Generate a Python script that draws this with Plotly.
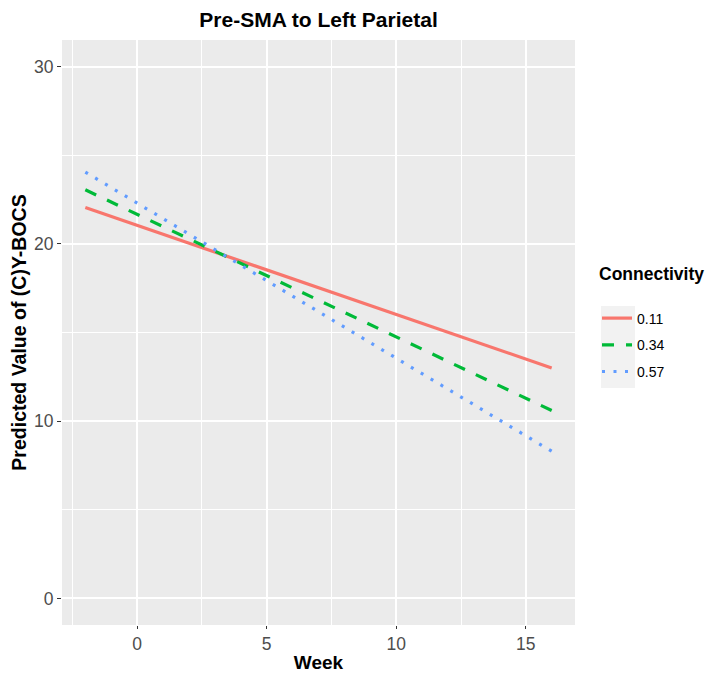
import plotly.graph_objects as go

weeks = [-2, 16]
connectivity = ["0.11", "0.34", "0.57"]
pred_011 = [22.05, 13.0]
pred_034 = [23.05, 10.6]
pred_057 = [24.05, 8.3]

x_ticks = [0, 5, 10, 15]
y_ticks = [0, 10, 20, 30]

series = [pred_011, pred_034, pred_057]
colors = ["#F8766D", "#00BA38", "#619CFF"]
dashes = ["solid", "12px,12px", "3px,8.5px"]

# page body has an 8px margin, so the figure is drawn 8px in from the window edge
OFF = 8
W, H = 713 - OFF, 677 - OFF
L, R, T, B = 62 - OFF, 575 - OFF, 40 - OFF, 625 - OFF
pw, ph = R - L, B - T


def px_x(p):
    return (p - OFF - L) / pw


def px_y(p):
    return (B - (p - OFF)) / ph


fig = go.Figure()
for name, vals, c, d in zip(connectivity, series, colors, dashes):
    fig.add_trace(go.Scatter(x=weeks, y=vals, mode="lines", name=name, legendgroup=name,
                             line=dict(color=c, width=3.2, dash=d)))

font_family = "Liberation Sans, Arial, sans-serif"
fig.add_shape(type="rect", xref="paper", yref="paper",
              x0=px_x(601), x1=px_x(635), y0=px_y(388), y1=px_y(306),
              fillcolor="#F2F2F2", line=dict(width=0), layer="below")

fig.update_layout(
    width=W, height=H,
    margin=dict(l=L, r=W - R, t=T, b=H - B, autoexpand=False),
    paper_bgcolor="white",
    plot_bgcolor="#EBEBEB",
    font=dict(family=font_family, color="#000000"),
    title=dict(text="<b>Pre-SMA to Left Parietal</b>", x=(L + R) / 2 / W, xanchor="center",
               y=1 - (20 - OFF) / H, yanchor="middle", font=dict(size=21, color="black")),
    showlegend=True,
    legend=dict(x=px_x(597), xanchor="left", y=px_y(257), yanchor="top",
                bgcolor="rgba(0,0,0,0)",
                title=dict(text="<b>Connectivity</b><br> ", font=dict(size=17.5, color="black")),
                font=dict(size=14, color="black"),
                tracegroupgap=5.5, itemwidth=30),
    xaxis=dict(range=[-2.9, 16.9], tickvals=x_ticks, ticks="outside", ticklen=3,
               tickcolor="#333333", tickfont=dict(size=17.5, color="#4D4D4D"),
               showgrid=True, gridcolor="white", gridwidth=1.6, zeroline=False,
               minor=dict(dtick=2.5, showgrid=True, gridcolor="white", gridwidth=0.7),
               title=dict(text="<b>Week</b>", font=dict(size=19, color="black"), standoff=2),
               showline=False, automargin=False),
    yaxis=dict(range=[-1.5, 31.5], tickvals=y_ticks, ticks="outside", ticklen=4,
               tickcolor="#333333", tickfont=dict(size=17.5, color="#4D4D4D"),
               showgrid=True, gridcolor="white", gridwidth=1.6, zeroline=False,
               minor=dict(dtick=5, showgrid=True, gridcolor="white", gridwidth=0.7),
               title=dict(text="<b>Predicted Value of (C)Y-BOCS</b>", font=dict(size=19.5, color="black"), standoff=3),
               showline=False, automargin=False),
)

fig.write_html("out.html")
